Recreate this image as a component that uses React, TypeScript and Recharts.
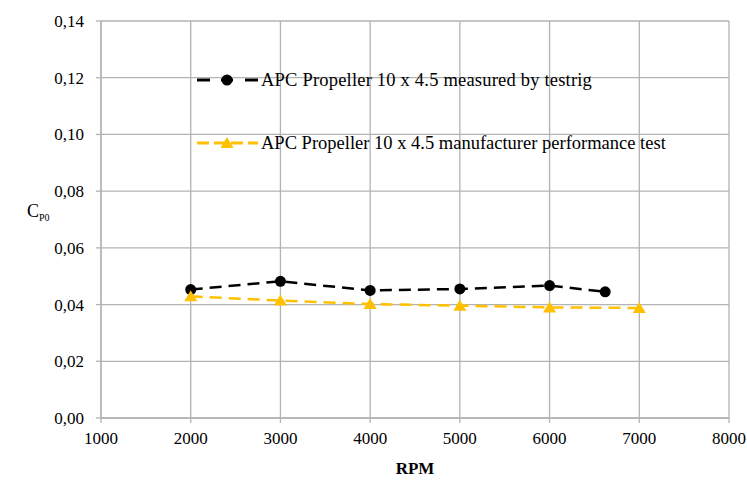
import { ComposedChart, Line, XAxis, YAxis, CartesianGrid, Legend } from "recharts";

const rpmTicks = [1000, 2000, 3000, 4000, 5000, 6000, 7000, 8000];
const cpTicks = [0, 0.02, 0.04, 0.06, 0.08, 0.1, 0.12, 0.14];

const measuredRpm = [2000, 3000, 4000, 5000, 6000, 6620];
const measuredCp = [0.0453, 0.0482, 0.045, 0.0455, 0.0467, 0.0445];

const makerRpm = [2000, 3000, 4000, 5000, 6000, 7000];
const makerCp = [0.0429, 0.0414, 0.0402, 0.0396, 0.039, 0.0388];

const measured = measuredRpm.map((rpm, i) => ({ rpm, cp: measuredCp[i] }));
const maker = makerRpm.map((rpm, i) => ({ rpm, cp: makerCp[i] }));

const FONT = "'Liberation Serif', 'Times New Roman', serif";
const GRID = "#b3b3b3";
const BLACK = "#000000";
const YELLOW = "#ffc000";

const fmt = (v: number) => v.toFixed(2).replace(".", ",");

const Triangle = (props: any) => {
  const { cx, cy } = props;
  if (cx == null || cy == null) return null;
  return (
    <path
      d={`M${cx},${cy - 6} L${cx + 6.5},${cy + 5} L${cx - 6.5},${cy + 5} Z`}
      fill={YELLOW}
    />
  );
};

const LegendBox = () => (
  <div style={{ fontFamily: FONT, fontSize: 18.5, color: "#000" }}>
    <div style={{ display: "flex", alignItems: "center", height: 22, marginBottom: 41 }}>
      <svg width={66} height={22}>
        <line x1={2} y1={11} x2={15} y2={11} stroke={BLACK} strokeWidth={3} />
        <line x1={50} y1={11} x2={63} y2={11} stroke={BLACK} strokeWidth={3} />
        <line x1={26} y1={11} x2={38} y2={11} stroke={BLACK} strokeWidth={3} />
        <circle cx={32} cy={11} r={5.5} fill={BLACK} />
      </svg>
      <span style={{ whiteSpace: "nowrap", letterSpacing: 0.2 }}>APC Propeller 10 x 4.5 measured by testrig</span>
    </div>
    <div style={{ display: "flex", alignItems: "center", height: 22 }}>
      <svg width={66} height={22}>
        <line x1={2} y1={11} x2={63} y2={11} stroke={YELLOW} strokeWidth={3} strokeDasharray="12 5" />
        <path d="M32,5 L38.5,16 L25.5,16 Z" fill={YELLOW} />
      </svg>
      <span style={{ whiteSpace: "nowrap" }}>APC Propeller 10 x 4.5 manufacturer performance test</span>
    </div>
  </div>
);

const YTitle = (props: any) => {
  const { viewBox } = props;
  const y = viewBox.y + viewBox.height / 2 - 3;
  return (
    <text x={27} y={y} fontFamily={FONT} fontSize={18} fill="#000">
      C
      <tspan fontSize={10} dy={4}>P0</tspan>
    </text>
  );
};

export default function App() {
  return (
    <div style={{ position: "absolute", left: 0, top: 0, width: 747, height: 484, background: "#fff" }}>
      <ComposedChart width={747} height={484} margin={{ top: 21, right: 18, bottom: 0, left: 0 }}>
        <CartesianGrid stroke={GRID} strokeWidth={1.3} />
        <XAxis
          type="number"
          dataKey="rpm"
          domain={[1000, 8000]}
          ticks={rpmTicks}
          allowDataOverflow
          height={66}
          stroke={GRID}
          strokeWidth={1.3}
          tickSize={5}
          tick={{ fill: "#000", fontFamily: FONT, fontSize: 17 }}
          tickMargin={9}
          label={{ value: "RPM", position: "insideBottom", offset: 10, fill: "#000", fontFamily: FONT, fontSize: 17, fontWeight: 700 }}
        />
        <YAxis
          type="number"
          domain={[0, 0.14]}
          ticks={cpTicks}
          tickFormatter={fmt}
          width={101}
          stroke={GRID}
          strokeWidth={1.3}
          tickSize={5}
          tickMargin={12}
          tick={{ fill: "#000", fontFamily: FONT, fontSize: 17 }}
          label={<YTitle />}
        />
        <Legend
          layout="vertical"
          align="center"
          verticalAlign="middle"
          content={<LegendBox />}
          wrapperStyle={{ left: 195, top: 69, width: 540 }}
        />
        <Line
          data={measured}
          dataKey="cp"
          name="measured"
          stroke={BLACK}
          strokeWidth={2.5}
          strokeDasharray="12 7"
          dot={{ r: 5.5, fill: BLACK, stroke: BLACK, strokeWidth: 0 }}
          isAnimationActive={false}
        />
        <Line
          data={maker}
          dataKey="cp"
          name="maker"
          stroke={YELLOW}
          strokeWidth={2.5}
          strokeDasharray="12 7"
          dot={<Triangle />}
          isAnimationActive={false}
        />
      </ComposedChart>
    </div>
  );
}
